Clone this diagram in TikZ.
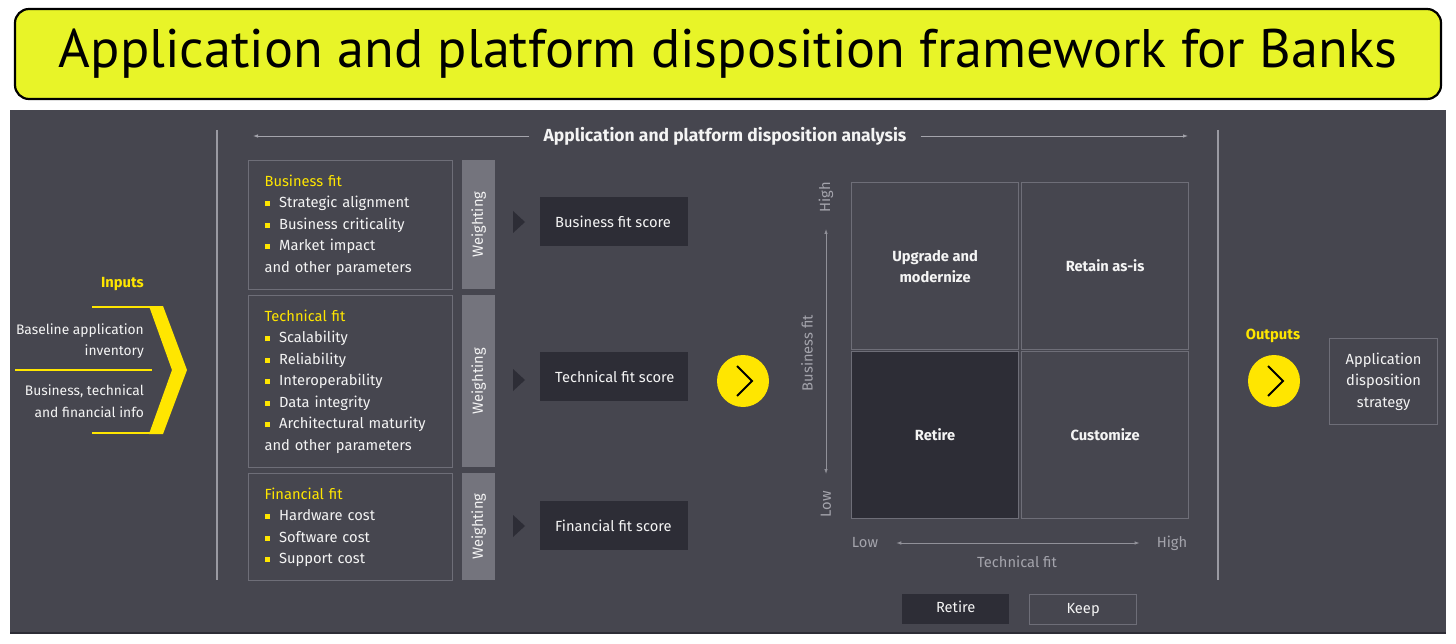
\documentclass[tikz,border=0pt]{standalone}
\usepackage{fontspec}
\usepackage{graphicx}
\setmainfont{Fira Sans}
\newfontfamily\titlefont{PT Sans}
\usetikzlibrary{arrows.meta}
\definecolor{banner}{HTML}{E8F428}
\definecolor{panel}{HTML}{46464F}
\definecolor{boxline}{HTML}{6E6E78}
\definecolor{wbarc}{HTML}{74747D}
\definecolor{darkc}{HTML}{2D2D36}
\definecolor{yel}{HTML}{FFE600}
\definecolor{axisc}{HTML}{A4A4AC}
\definecolor{txt}{HTML}{F4F4F4}
\definecolor{divc}{HTML}{9A9AA2}
\newcommand\bitem[1]{\textcolor{yel}{\rule[1.3pt]{5pt}{5pt}}\hspace{9.5pt}#1}
\begin{document}
\begin{tikzpicture}[x=1pt,y=-1pt,
  every node/.style={inner sep=0pt, text=txt, font=\fontsize{14.7}{21.5}\selectfont},
  fitbox/.style={draw=boxline, line width=1.2pt, anchor=north west, minimum width=204pt,
     text width=172pt, inner xsep=16pt, align=left},
  wbar/.style={fill=wbarc, anchor=north west, minimum width=33pt},
  scorebox/.style={fill=darkc, anchor=north west, minimum width=148pt, minimum height=49pt},
  scoretxt/.style={anchor=west, xshift=15pt},
  cell/.style={draw=boxline, line width=1.2pt, anchor=north west, minimum width=167pt,
     minimum height=167pt, font=\fontsize{14.7}{21}\selectfont\bfseries, align=center},
  axislbl/.style={text=axisc, font=\fontsize{14.7}{17}\selectfont},
  thinarrow/.style={draw=axisc, line width=0.8pt, -{Latex[length=5pt,width=3.5pt]}},
  bothaxis/.style={draw=axisc!80!panel, line width=0.8pt, {Latex[length=5pt,width=3.5pt]}-{Latex[length=5pt,width=3.5pt]}},
  ycircle/.style={circle, fill=yel, minimum size=52pt},
  chev/.style={draw=black, line width=1.8pt},
  tri/.style={fill=darkc},
  inptxt/.style={anchor=east, align=right, font=\fontsize{13.8}{21.5}\selectfont},
  legend/.style={anchor=north west, minimum width=107pt, minimum height=30pt, text height=10.5pt, text depth=3pt}
]
\useasboundingbox (0,0) rectangle (1456,644);
\fill[white] (0,0) rectangle (1456,644);

% banner
\draw[line width=2.2pt, fill=banner, rounded corners=14pt] (15,9) rectangle (1441,99);
\node[text=black] (title) at (728,54) {\resizebox{1338pt}{!}{\titlefont\fontsize{48}{48}\selectfont Application and platform disposition framework for Banks}};

% panel
\fill[panel] (10,110) rectangle (1446,634);
\draw[darkc, line width=1.5pt] (10,633) -- (1446,633);

% dividers
\coordinate (d1t) at (217,130); \coordinate (d1b) at (217,580);
\coordinate (d2t) at (1218,130); \coordinate (d2b) at (1218,580);
\draw[divc, line width=1.2pt] (d1t) -- (d1b);
\draw[divc, line width=1.2pt] (d2t) -- (d2b);

% header
\node[font=\fontsize{17.5}{20}\selectfont\bfseries] (hdr) at (725,136) {Application and platform disposition analysis};
\coordinate (hl) at (253,136);
\coordinate (hr) at (1188,136);
\draw[thinarrow] ([xshift=-14pt]hdr.west) -- (hl);
\draw[thinarrow] ([xshift=14pt]hdr.east) -- (hr);

% inputs
\node[anchor=east, text=yel, font=\fontsize{14.7}{17}\selectfont\bfseries] (inp) at (144,284) {Inputs};
\node[inptxt] (bai) at (144,341) {Baseline application\\inventory};
\node[inptxt] (bti) at (144,401) {Business, technical\\and financial info};
\coordinate (l1a) at (92,307); \coordinate (l1b) at (152,307);
\coordinate (l2a) at (15,370); \coordinate (l2b) at (152,370);
\coordinate (l3a) at (92,433); \coordinate (l3b) at (152,433);
\draw[yel, line width=2pt] (l1a) -- (l1b);
\draw[yel, line width=2pt] (l2a) -- (l2b);
\draw[yel, line width=2pt] (l3a) -- (l3b);
\fill[yel] (149,306) -- (163,306) -- (187,370) -- (163,434) -- (149,434) -- (172,370) -- cycle;

% fit boxes
\node[fitbox, minimum height=129pt] (bf) at (248,160) {\textcolor{yel}{Business fit}\\
  \bitem{Strategic alignment}\\ \bitem{Business criticality}\\ \bitem{Market impact}\\ and other parameters};
\node[fitbox, minimum height=172pt] (tf) at (248,295) {\textcolor{yel}{Technical fit}\\
  \bitem{Scalability}\\ \bitem{Reliability}\\ \bitem{Interoperability}\\ \bitem{Data integrity}\\ \bitem{Architectural maturity}\\ and other parameters};
\node[fitbox, minimum height=107pt] (ff) at (248,473) {\textcolor{yel}{Financial fit}\\
  \bitem{Hardware cost}\\ \bitem{Software cost}\\ \bitem{Support cost}};

% weighting bars
\node[wbar, minimum height=129pt] (w1) at (462,160) {};
\node[wbar, minimum height=172pt] (w2) at (462,295) {};
\node[wbar, minimum height=107pt] (w3) at (462,473) {};
\node[rotate=90] (w1l) at (w1.center) {Weighting};
\node[rotate=90] (w2l) at (w2.center) {Weighting};
\node[rotate=90] (w3l) at (w3.center) {Weighting};

% triangles
\fill[tri] (513,211) -- (525,222) -- (513,233) -- cycle;
\fill[tri] (513,369) -- (525,380) -- (513,391) -- cycle;
\fill[tri] (513,515) -- (525,526) -- (513,537) -- cycle;

% score boxes
\node[scorebox] (bs) at (540,197) {};
\node[scorebox] (ts) at (540,352) {};
\node[scorebox] (fs) at (540,501) {};
\node[scoretxt] (bst) at (bs.west) {Business fit score};
\node[scoretxt] (tst) at (ts.west) {Technical fit score};
\node[scoretxt] (fst) at (fs.west) {Financial fit score};

% middle circle
\node[ycircle] (c1) at (743,381) {};
\draw[chev] ([shift={(-6,-15)}]c1.center) -- ([shift={(9,0)}]c1.center) -- ([shift={(-6,15)}]c1.center);

% matrix
\node[cell] (ul) at (851,182) {Upgrade and\\modernize};
\node[cell] (ur) at (1021,182) {Retain as-is};
\node[cell, fill=darkc] (ll) at (851,351) {Retire};
\node[cell] (lr) at (1021,351) {Customize};

% axes
\node[axislbl, rotate=90] (yh) at (826,197) {High};
\node[axislbl, rotate=90] (yl) at (826,504) {Low};
\node[axislbl, rotate=90] (ybf) at (807,353) {Business fit};
\coordinate (ya) at (826,229); \coordinate (yb) at (826,474);
\draw[bothaxis] (ya) -- (yb);
\node[axislbl] (xl) at (865,543) {Low};
\node[axislbl] (xh) at (1172,543) {High};
\node[axislbl] (xtf) at (1017,562) {Technical fit};
\draw[bothaxis] ([xshift=18pt]xl.east) -- ([xshift=-17pt]xh.west);

% outputs
\node[text=yel, font=\fontsize{14.7}{17}\selectfont\bfseries] (outl) at (1273,336) {Outputs};
\node[ycircle] (c2) at (1274,381) {};
\draw[chev] ([shift={(-6,-15)}]c2.center) -- ([shift={(9,0)}]c2.center) -- ([shift={(-6,15)}]c2.center);
\node[draw=boxline, line width=1.2pt, anchor=north west, minimum width=108pt, minimum height=86pt, align=center] (ads) at (1329,338) {Application\\disposition\\strategy};

% legend
\node[legend, fill=darkc] (lgr) at (902,594) {Retire};
\node[legend, draw=boxline, line width=1.2pt] (lgk) at (1029,594) {Keep};
\end{tikzpicture}
\end{document}
